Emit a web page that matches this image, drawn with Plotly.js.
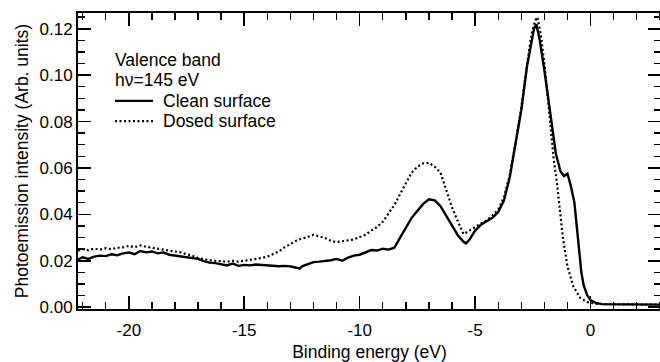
<!DOCTYPE html>
<html>
<head>
<meta charset="utf-8">
<script src="https://cdn.plot.ly/plotly-3.0.1.min.js"></script>
<style>html,body{margin:0;padding:0;overflow:hidden;background:#fff;}</style>
</head>
<body>
<div id="chart"></div>
<script>
// Clean surface (solid)
const cleanE = [-22.2,-22.0,-21.75,-21.5,-21.25,-21.0,-20.75,-20.5,-20.25,-20.0,-19.75,-19.5,-19.25,-19.0,-18.75,-18.5,-18.25,-18.0,-17.75,-17.5,-17.25,-17.0,-16.75,-16.5,-16.25,-16.0,-15.75,-15.5,-15.25,-15.0,-14.75,-14.5,-14.25,-14.0,-13.75,-13.5,-13.25,-13.0,-12.75,-12.6,-12.5,-12.25,-12.0,-11.75,-11.5,-11.25,-11.0,-10.75,-10.5,-10.25,-10.0,-9.75,-9.5,-9.25,-9.0,-8.75,-8.5,-8.25,-8.0,-7.75,-7.5,-7.25,-7.0,-6.75,-6.5,-6.25,-6.0,-5.75,-5.5,-5.4,-5.25,-5.0,-4.75,-4.5,-4.25,-4.0,-3.75,-3.5,-3.25,-3.0,-2.75,-2.6,-2.45,-2.35,-2.2,-2.0,-1.75,-1.5,-1.3,-1.15,-1.0,-0.85,-0.7,-0.6,-0.5,-0.4,-0.3,-0.15,0.0,0.25,0.5,1.0,2.0,3.0];
const cleanI = [0.0205,0.0215,0.0208,0.0218,0.0222,0.0220,0.0228,0.0224,0.0232,0.0236,0.0228,0.0242,0.0236,0.0240,0.0232,0.0236,0.0226,0.0222,0.0220,0.0214,0.0212,0.0208,0.0198,0.0192,0.0190,0.0186,0.0180,0.0188,0.0178,0.0182,0.0180,0.0184,0.0182,0.0180,0.0178,0.0176,0.0178,0.0176,0.0170,0.0166,0.0176,0.0186,0.0194,0.0196,0.0198,0.0202,0.0208,0.0200,0.0214,0.0222,0.0226,0.0236,0.0246,0.0244,0.0252,0.0248,0.0256,0.0300,0.0345,0.0385,0.0415,0.0445,0.0465,0.0460,0.0435,0.0395,0.0350,0.0310,0.0282,0.0275,0.0290,0.0330,0.0355,0.0370,0.0385,0.0410,0.0460,0.0560,0.0700,0.0850,0.1040,0.1120,0.1200,0.1220,0.1150,0.1020,0.0850,0.0660,0.0585,0.0565,0.0575,0.0520,0.0450,0.0350,0.0220,0.0150,0.0095,0.0052,0.0030,0.0017,0.0013,0.0012,0.0011,0.0011];

// Dosed surface (dotted)
const dosedE = [-22.2,-22.0,-21.75,-21.5,-21.25,-21.0,-20.75,-20.5,-20.25,-20.0,-19.75,-19.5,-19.25,-19.0,-18.75,-18.5,-18.25,-18.0,-17.75,-17.5,-17.25,-17.0,-16.75,-16.5,-16.25,-16.0,-15.75,-15.5,-15.25,-15.0,-14.75,-14.5,-14.25,-14.0,-13.75,-13.5,-13.25,-13.0,-12.75,-12.5,-12.25,-12.0,-11.75,-11.5,-11.25,-11.0,-10.75,-10.5,-10.25,-10.0,-9.75,-9.5,-9.25,-9.0,-8.75,-8.5,-8.25,-8.0,-7.75,-7.5,-7.25,-7.0,-6.75,-6.5,-6.25,-6.0,-5.75,-5.5,-5.25,-5.0,-4.75,-4.5,-4.25,-4.0,-3.75,-3.5,-3.25,-3.0,-2.75,-2.55,-2.4,-2.3,-2.15,-2.0,-1.8,-1.6,-1.45,-1.35,-1.2,-1.0,-0.75,-0.45,-0.15,0.25,1.0,2.0,3.0];
const dosedI = [0.0245,0.0250,0.0246,0.0252,0.0248,0.0254,0.0250,0.0256,0.0258,0.0264,0.0258,0.0266,0.0260,0.0256,0.0254,0.0250,0.0244,0.0240,0.0236,0.0228,0.0222,0.0212,0.0206,0.0202,0.0200,0.0198,0.0196,0.0200,0.0196,0.0200,0.0204,0.0206,0.0212,0.0218,0.0228,0.0240,0.0258,0.0272,0.0286,0.0296,0.0302,0.0312,0.0306,0.0298,0.0286,0.0280,0.0284,0.0288,0.0292,0.0302,0.0312,0.0330,0.0345,0.0368,0.0405,0.0440,0.0488,0.0535,0.0580,0.0605,0.0620,0.0622,0.0605,0.0580,0.0500,0.0430,0.0370,0.0315,0.0330,0.0345,0.0360,0.0375,0.0395,0.0420,0.0475,0.0570,0.0710,0.0860,0.1050,0.1180,0.1235,0.1250,0.1170,0.1050,0.0850,0.0640,0.0530,0.0430,0.0300,0.0175,0.0090,0.0040,0.0022,0.0014,0.0012,0.0011,0.0011];

const seriesNames = ['Clean surface', 'Dosed surface'];
const legendTitleLines = ['Valence band', 'hν=145 eV'];
const xTickVals = [-20, -15, -10, -5, 0];
const xTickText = ['-20', '-15', '-10', '-5', '0'];
const xTitle = 'Binding energy (eV)';
const yTitle = 'Photoemission intensity (Arb. units)';

const FONT = 'Liberation Sans, Arial, sans-serif';
const TXT = {family: FONT, size: 17.5, color: '#000'};

const lineStyles = [
  {color: '#000', width: 2.4},
  {color: '#000', width: 2.2, dash: '2px,2.5px'}
];

const traces = [
  {x: cleanE, y: cleanI, name: seriesNames[0], mode: 'lines', line: lineStyles[0]},
  {x: dosedE, y: dosedI, name: seriesNames[1], mode: 'lines', line: lineStyles[1]}
];

// Legend block (drawn in paper coordinates)
const legX0 = 0.0635, legX1 = 0.1286, legTextX = 0.142;
const legTitleY = [0.841, 0.774];
const legItemY = [0.703, 0.635];

const annotations = [];
legendTitleLines.forEach((t, i) => annotations.push({
  xref: 'paper', yref: 'paper', x: legX0 - 0.003, y: legTitleY[i],
  xanchor: 'left', yanchor: 'middle', showarrow: false, text: t, font: TXT
}));
seriesNames.forEach((t, i) => annotations.push({
  xref: 'paper', yref: 'paper', x: legTextX, y: legItemY[i],
  xanchor: 'left', yanchor: 'middle', showarrow: false, text: t, font: TXT
}));
const shapes = seriesNames.map((t, i) => ({
  type: 'line', xref: 'paper', yref: 'paper',
  x0: legX0, x1: legX1, y0: legItemY[i], y1: legItemY[i],
  line: lineStyles[i]
}));

const layout = {
  width: 662, height: 362,
  margin: {l: 78, r: 1, t: 13, b: 53},
  paper_bgcolor: '#fff', plot_bgcolor: '#fff',
  font: {family: FONT, size: 17, color: '#000'},
  showlegend: false,
  annotations: annotations,
  shapes: shapes,
  xaxis: {
    range: [-22.2, 3.05],
    showline: true, linewidth: 2, linecolor: '#000', mirror: 'ticks',
    showgrid: false, zeroline: false,
    ticks: 'inside', ticklen: 13, tickwidth: 1.6, tickcolor: '#000',
    tickvals: xTickVals, ticktext: xTickText, ticklabelstandoff: 5,
    tickfont: {family: FONT, size: 17, color: '#000'},
    minor: {dtick: 1, tick0: 0, ticks: 'inside', ticklen: 7, tickwidth: 1.4, tickcolor: '#000', showgrid: false},
    title: {text: xTitle, font: TXT, standoff: 12}
  },
  yaxis: {
    range: [-0.0008, 0.1268],
    showline: true, linewidth: 2, linecolor: '#000', mirror: 'ticks',
    showgrid: false, zeroline: false,
    ticks: 'inside', ticklen: 13, tickwidth: 1.6, tickcolor: '#000',
    dtick: 0.02, tick0: 0, tickformat: '.2f',
    tickfont: {family: FONT, size: 17, color: '#000'},
    minor: {dtick: 0.005, tick0: 0, ticks: 'inside', ticklen: 7, tickwidth: 1.4, tickcolor: '#000', showgrid: false},
    title: {text: yTitle, font: TXT, standoff: 6}
  }
};

Plotly.newPlot('chart', traces, layout, {displayModeBar: false, staticPlot: true});
</script>
</body>
</html>
